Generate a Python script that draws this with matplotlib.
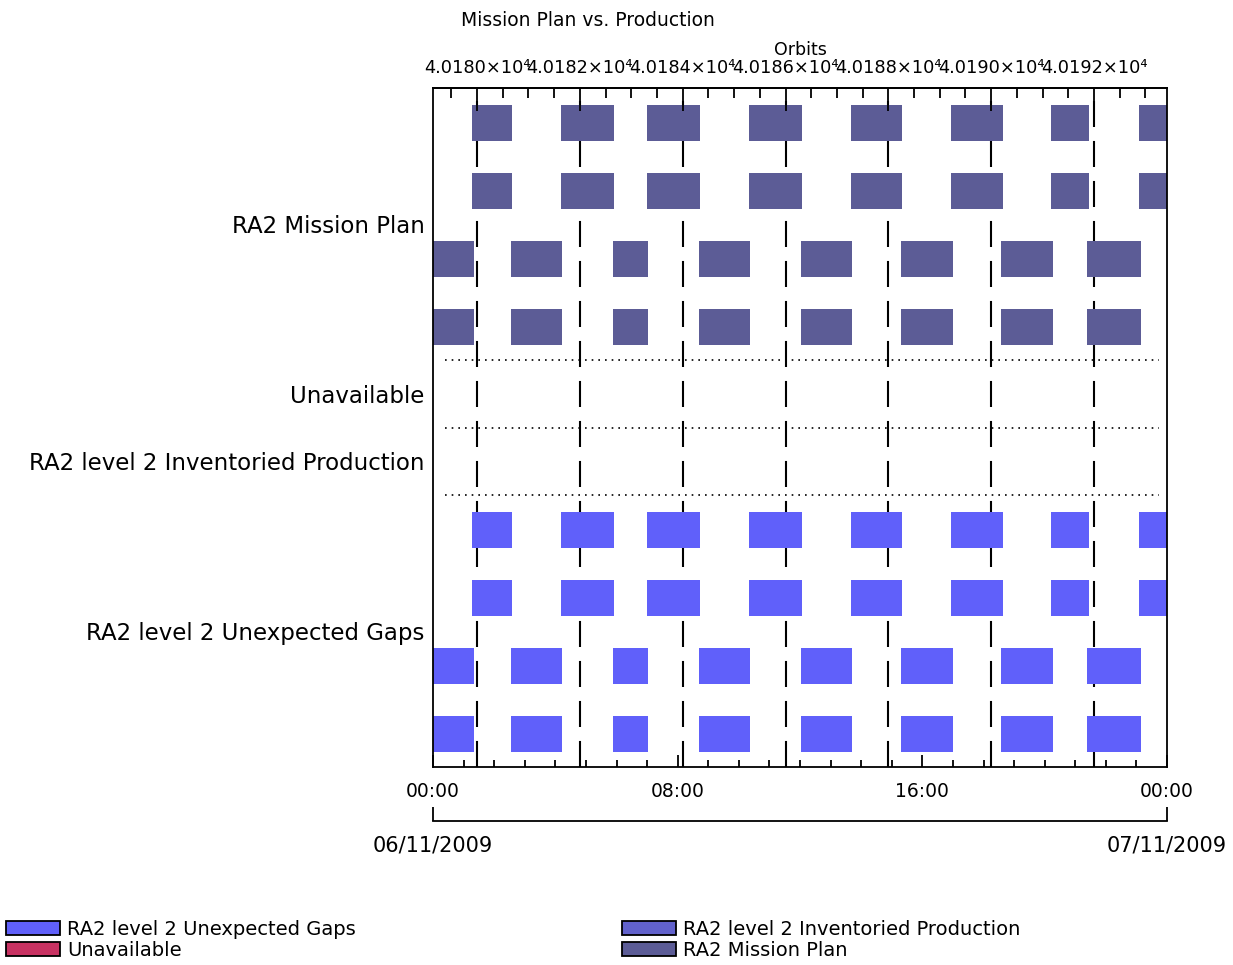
import numpy as np
import matplotlib.pyplot as plt
from matplotlib.patches import Patch
from matplotlib.ticker import FixedLocator, MultipleLocator

# hours after 00:00 of 06/11/2009
pass_a_start = [1.28, 4.18, 6.99, 10.33, 13.66, 16.93, 20.20, 23.09]
pass_a_end = [2.58, 5.93, 8.73, 12.08, 15.35, 18.63, 21.44, 24.00]
pass_b_start = [0.00, 2.54, 5.88, 8.69, 12.02, 15.29, 18.57, 21.38]
pass_b_end = [1.35, 4.23, 7.04, 10.38, 13.71, 16.99, 20.26, 23.14]

categories = ["RA2 Mission Plan", "Unavailable",
              "RA2 level 2 Inventoried Production", "RA2 level 2 Unexpected Gaps"]
n_rows = [4, 1, 1, 4]

# sub-rows of each category (Unavailable / Inventoried are empty)
mission_rows = [(pass_a_start, pass_a_end), (pass_a_start, pass_a_end),
                (pass_b_start, pass_b_end), (pass_b_start, pass_b_end)]
gaps_rows = [(pass_a_start, pass_a_end), (pass_a_start, pass_a_end),
             (pass_b_start, pass_b_end), (pass_b_start, pass_b_end)]

orbit_ticks = [40180, 40182, 40184, 40186, 40188, 40190, 40192]
orbit_first = 40180
t_first = 1.44      # hour of orbit 40180
period_h = 1.681    # orbit period in hours

time_ticks = [0, 8, 16, 24]
time_labels = ["00:00", "08:00", "16:00", "00:00"]
date_labels = ["06/11/2009", "07/11/2009"]

c_plan = "#5c5c96"
c_prod = "#6262cc"
c_gaps = "#6060fa"
c_unav = "#c83262"

W, H = 1233, 965
fig = plt.figure(figsize=(W / 100, H / 100), dpi=100)
ax = fig.add_axes([433 / W, 1 - 767 / H, 734 / W, 679 / H])
ax.set_xlim(0, 24)
ax.set_ylim(sum(n_rows), 0)

bounds = np.cumsum([0] + n_rows)
label_pos = (bounds[:-1] + bounds[1:]) / 2

# dashed lines on every second orbit
for orb in orbit_ticks:
    t = t_first + (orb - orbit_first) * period_h
    ax.axvline(t, color="black", lw=1.5, ls=(0, (12.5, 6.7)), zorder=1)

# dotted separators
for y in bounds[1:-1]:
    ax.plot([0.39, 23.74], [y, y], color="black", lw=1.2, ls=(0, (1, 3)), zorder=1)

def draw_rows(rows, first, color):
    for i, (st, en) in enumerate(rows):
        segs = [(s, e - s) for s, e in zip(st, en)]
        ax.broken_barh(segs, (first + i + 0.25, 0.53), facecolor=color, zorder=2)

draw_rows(mission_rows, bounds[0], c_plan)
draw_rows(gaps_rows, bounds[3], c_gaps)

ax.set_yticks(label_pos, categories)
ax.tick_params(axis="y", length=0, pad=6, labelsize=16.5)
ax.set_xticks(time_ticks, time_labels)
ax.xaxis.set_minor_locator(MultipleLocator(1))
ax.tick_params(axis="x", which="major", direction="in", length=9, width=1.3,
               labelsize=13.5, pad=11)
ax.tick_params(axis="x", which="minor", direction="in", length=5, width=1.3)
for s in ax.spines.values():
    s.set_linewidth(1.3)

# orbit axis on top
top = ax.twiny()
orb0 = orbit_first - t_first / period_h
top.set_xlim(orb0, orb0 + 24 / period_h)
top.xaxis.set_major_locator(FixedLocator(orbit_ticks))
top.xaxis.set_minor_locator(MultipleLocator(0.5))
top.set_xticklabels(["%.4f\u00d710\u2074" % (o / 1e4) for o in orbit_ticks])
top.tick_params(which="major", direction="in", length=16.5, width=1.3,
                labelsize=12.8, pad=8)
top.tick_params(which="minor", direction="in", length=7, width=1.3)
for k in ["left", "right", "bottom"]:
    top.spines[k].set_visible(False)
top.spines["top"].set_linewidth(1.3)

# date axis below
dates = ax.twiny()
dates.set_xlim(0, 24)
dates.xaxis.set_ticks_position("bottom")
dates.spines["bottom"].set_position(("outward", 39))
for k in ["left", "right", "top"]:
    dates.spines[k].set_visible(False)
dates.spines["bottom"].set_linewidth(1.3)
dates.set_xticks([0, 24], date_labels)
dates.tick_params(direction="in", length=10, width=1.3, labelsize=15, pad=10)

fig.text(588 / W, 1 - 20 / H, "Mission Plan vs. Production", ha="center",
         va="center", fontsize=13.5)
fig.text(800 / W, 1 - 50 / H, "Orbits", ha="center", va="center", fontsize=12.5)

leg_kw = dict(loc="upper left", frameon=False, fontsize=14, handlelength=2.8,
              handleheight=0.72, handletextpad=0.35, labelspacing=0.1,
              borderpad=0, borderaxespad=0)
left_h = [Patch(facecolor=c_gaps, edgecolor="black", lw=1.3, label=categories[3]),
          Patch(facecolor=c_unav, edgecolor="black", lw=1.3, label=categories[1])]
right_h = [Patch(facecolor=c_prod, edgecolor="black", lw=1.3, label=categories[2]),
           Patch(facecolor=c_plan, edgecolor="black", lw=1.3, label=categories[0])]
fig.legend(handles=left_h, bbox_to_anchor=(6 / W, 1 - 920 / H), **leg_kw)
fig.legend(handles=right_h, bbox_to_anchor=(622 / W, 1 - 920 / H), **leg_kw)

fig.savefig("out.png", dpi=100)
